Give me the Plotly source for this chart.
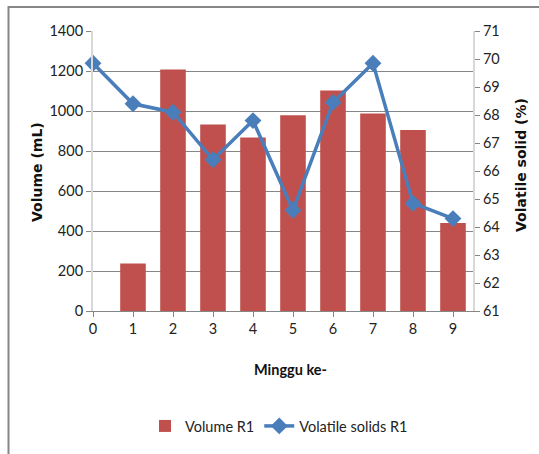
import plotly.graph_objects as go

# Weekly data for reactor R1
weeks_line = [0, 1, 2, 3, 4, 5, 6, 7, 8, 9]
volatile_solids = [69.85, 68.4, 68.1, 66.4, 67.8, 64.6, 68.45, 69.85, 64.85, 64.3]
weeks_bar = [1, 2, 3, 4, 5, 6, 7, 8, 9]
volume_ml = [238, 1208, 933, 868, 979, 1103, 988, 905, 440]
x_ticks = [0, 1, 2, 3, 4, 5, 6, 7, 8, 9]
y_ticks = [0, 200, 400, 600, 800, 1000, 1200, 1400]
y2_ticks = [61, 62, 63, 64, 65, 66, 67, 68, 69, 70, 71]

W, H = 539, 454
L, R, T, B = 93, 473, 31, 311  # plot area in pixels
PW, PH = R - L, B - T

def px(x):
    return (x - L) / PW

def py(y):
    return (B - y) / PH

BODY = "Lato, Open Sans, Liberation Sans"
TICK_FONT = dict(family=BODY, size=14.5, color="#222222")
GRID = "#868686"

fig = go.Figure()
fig.add_trace(go.Bar(
    x=weeks_bar, y=volume_ml, name="Volume R1",
    marker=dict(color="#c0504d", line=dict(width=0)),
    width=0.64, yaxis="y",
))
fig.add_trace(go.Scatter(
    x=weeks_line, y=volatile_solids, name="Volatile solids R1",
    mode="lines+markers", yaxis="y2",
    line=dict(color="#4a7ebb", width=3.5),
    marker=dict(symbol="diamond", size=13, color="#4a7ebb"),
    cliponaxis=False,
))

fig.update_layout(
    width=W, height=H,
    margin=dict(l=L, r=W - R, t=T, b=H - B),
    paper_bgcolor="white", plot_bgcolor="white",
    showlegend=True,
    legend=dict(orientation="h", x=px(279), y=py(426), xanchor="center", yanchor="middle",
                font=dict(family=BODY, size=14.5, color="#222222"),
                itemwidth=30, tracegroupgap=0, bgcolor="rgba(0,0,0,0)"),
    xaxis=dict(range=[0, 9.5], tickvals=x_ticks, ticktext=[str(v) for v in x_ticks],
               showgrid=False, zeroline=False, showline=True, linecolor=GRID, linewidth=1,
               ticks="outside", ticklen=5, tickcolor=GRID, tickfont=TICK_FONT),
    yaxis=dict(range=[0, 1400], tickvals=y_ticks, showgrid=True, gridcolor=GRID, gridwidth=1,
               zeroline=False, showline=True, linecolor="#d9d9d9", linewidth=2,
               ticks="outside", ticklen=5, tickcolor=GRID, tickfont=TICK_FONT),
    yaxis2=dict(range=[61, 71], tickvals=y2_ticks, overlaying="y", side="right",
                showgrid=False, zeroline=False, showline=True, linecolor="#d9d9d9", linewidth=2,
                ticks="outside", ticklen=5, tickcolor=GRID, tickfont=TICK_FONT),
    annotations=[
        dict(text="<b>Volume (mL)</b>", xref="paper", yref="paper", x=px(37), y=py(172),
             textangle=-90, showarrow=False, xanchor="center", yanchor="middle",
             font=dict(family="DejaVu Sans", size=14, color="#111111")),
        dict(text="<b>Volatile solid (%)</b>", xref="paper", yref="paper", x=px(521), y=py(165),
             textangle=-90, showarrow=False, xanchor="center", yanchor="middle",
             font=dict(family="DejaVu Sans", size=14, color="#111111")),
        dict(text="<b>Minggu ke-</b>", xref="paper", yref="paper", x=px(290), y=py(369),
             showarrow=False, xanchor="center", yanchor="middle",
             font=dict(family=BODY, size=14.5, color="#111111")),
    ],
    shapes=[
        dict(type="rect", xref="paper", yref="paper", x0=px(8.5), x1=px(560), y0=py(480), y1=py(7),
             line=dict(color="#868686", width=2), fillcolor="rgba(0,0,0,0)", layer="below"),
    ],
)

fig.write_html("out.html")
